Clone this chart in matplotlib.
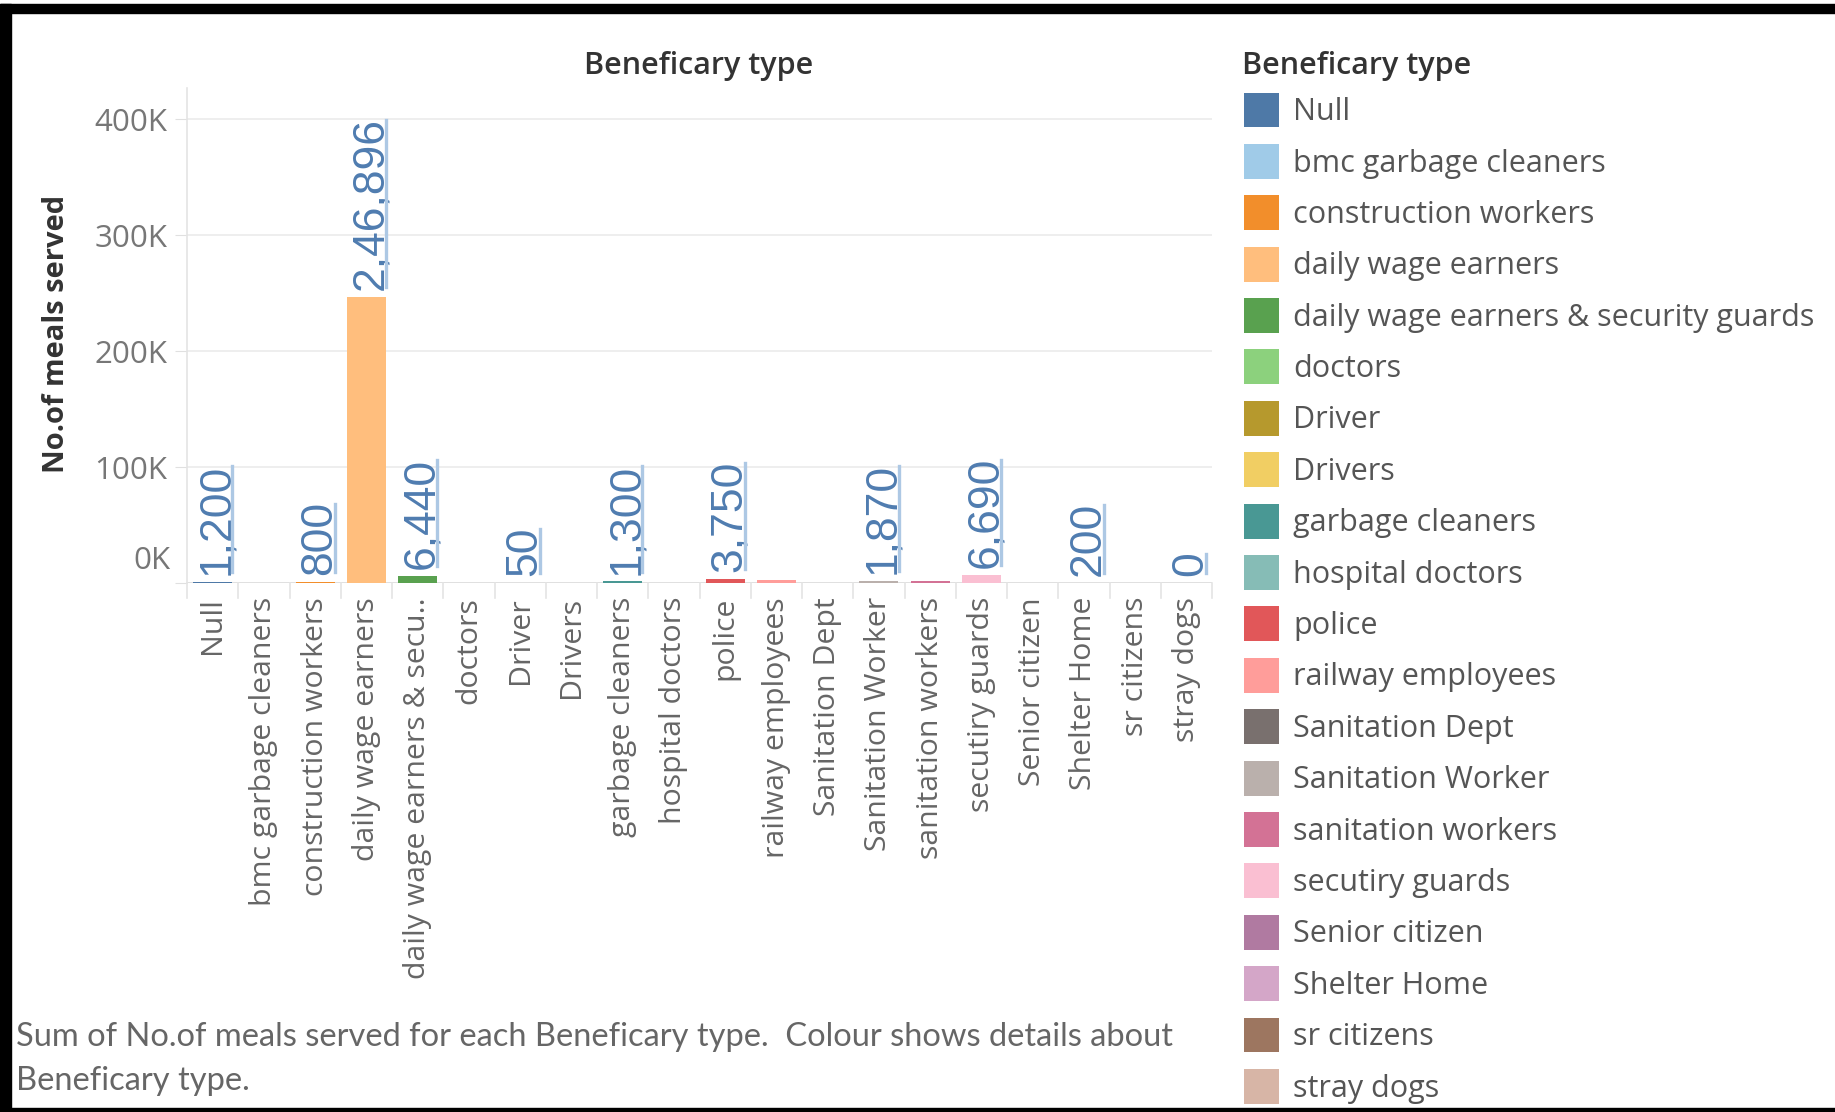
import numpy as np
import matplotlib
matplotlib.use('Agg')
import matplotlib.pyplot as plt
from matplotlib.patches import Patch, Rectangle
from matplotlib.lines import Line2D
import matplotlib.transforms as mtransforms
from matplotlib.ticker import FuncFormatter

plt.rcParams['font.family'] = ['Open Sans', 'DejaVu Sans']

# data
categories = ['Null', 'bmc garbage cleaners', 'construction workers', 'daily wage earners',
              'daily wage earners & security guards', 'doctors', 'Driver', 'Drivers',
              'garbage cleaners', 'hospital doctors', 'police', 'railway employees',
              'Sanitation Dept', 'Sanitation Worker', 'sanitation workers', 'secutiry guards',
              'Senior citizen', 'Shelter Home', 'sr citizens', 'stray dogs']
tick_labels = ['Null', 'bmc garbage cleaners', 'construction workers', 'daily wage earners',
               'daily wage earners & secu..', 'doctors', 'Driver', 'Drivers',
               'garbage cleaners', 'hospital doctors', 'police', 'railway employees',
               'Sanitation Dept', 'Sanitation Worker', 'sanitation workers', 'secutiry guards',
               'Senior citizen', 'Shelter Home', 'sr citizens', 'stray dogs']
meals = [1200, np.nan, 800, 246896, 6440, np.nan, 50, np.nan, 1300, np.nan, 3750, 3000,
         np.nan, 1870, 1900, 6690, np.nan, 200, np.nan, 0]
show_label = [True, False, True, True, True, False, True, False, True, False, True, False,
              False, True, False, True, False, True, False, True]
colors = ['#4e79a7', '#a0cbe8', '#f28e2b', '#ffbe7d', '#59a14f', '#8cd17d', '#b6992d', '#f1ce63',
          '#499894', '#86bcb6', '#e15759', '#ff9d9a', '#79706e', '#bab0ac', '#d37295', '#fabfd2',
          '#b07aa1', '#d4a6c8', '#9d7660', '#d7b5a6']
y_ticks = [0, 100000, 200000, 300000, 400000]


def indian(n):
    s = str(int(n))
    if len(s) <= 3:
        return s
    head, tail = s[:-3], s[-3:]
    groups = []
    while len(head) > 2:
        groups.insert(0, head[-2:])
        head = head[:-2]
    if head:
        groups.insert(0, head)
    return ','.join(groups) + ',' + tail


W, H = 1835, 1112
fig = plt.figure(figsize=(W / 100, H / 100), dpi=100)
ax = fig.add_axes([187 / W, 1 - 583 / H, 1025 / W, 495 / H])

x = np.arange(len(categories))
ax.bar(x, meals, width=0.76, color=colors, zorder=3)
ax.set_xlim(-0.5, len(categories) - 0.5)
ax.set_ylim(0, 427000)

for s in ['top', 'right', 'bottom']:
    ax.spines[s].set_visible(False)
ax.spines['left'].set_color('#e4e4e4')
ax.spines['left'].set_linewidth(1.2)
ax.set_yticks(y_ticks)
ax.yaxis.set_major_formatter(FuncFormatter(lambda v, p: '' if v == 0 else f'{int(v / 1000)}K'))
ax.tick_params(axis='y', length=9, color='#e0e0e0', labelsize=22.5, labelcolor='#777777', pad=5)
ax.grid(axis='y', color='#ebebeb', linewidth=1.2, zorder=0)
ax.axhline(0, color='#dedede', linewidth=1.2, zorder=2)
ax.annotate('0K', xy=(0, 0), xycoords=('axes fraction', 'data'), xytext=(-12, 5),
            textcoords='offset points', ha='right', va='bottom', fontsize=22.5, color='#777777')

ax.set_xticks(x)
ax.set_xticklabels(tick_labels, rotation=90, fontsize=21.8, color='#666666', va='top')
ax.tick_params(axis='x', length=0, pad=10)

# header separators under the baseline
sep = mtransforms.blended_transform_factory(ax.transData, ax.transAxes)
for k in range(len(categories) + 1):
    ax.add_line(Line2D([k - 0.5, k - 0.5], [0, -0.03], transform=sep, color='#e4e4e4',
                       linewidth=1.2, clip_on=False))

# value labels
labels = []
for i, v in enumerate(meals):
    if not show_label[i]:
        continue
    t = ax.annotate(indian(v), xy=(i, v), xytext=(3, 5), textcoords='offset points',
                    rotation=90, ha='center', va='bottom', fontsize=32, color='#4f7cb0',
                    family=['Liberation Sans', 'DejaVu Sans'], zorder=4)
    labels.append(t)

fig.canvas.draw()
r = fig.canvas.get_renderer()
for t in labels:
    bb = t.get_window_extent(r)
    ux = bb.x1 - 5
    fig.add_artist(Line2D([ux / W, ux / W], [(bb.y0 + 3) / H, (bb.y1 - 3) / H],
                          transform=fig.transFigure, color='#adc8e4', linewidth=2.4))

# titles and notes
fig.text(699 / W, 1 - 66 / H, 'Beneficary type', ha='center', va='center', fontsize=22,
         color='#333333', fontweight='semibold')
fig.text(56 / W, 1 - 334 / H, 'No.of meals served', ha='center', va='center', rotation=90,
         fontsize=21, color='#333333', fontweight='bold')
fig.text(16 / W, 1 - 1059 / H,
         'Sum of No.of meals served for each Beneficary type.  Colour shows details about\nBeneficary type.',
         ha='left', va='center', fontsize=23.5, color='#666666', linespacing=1.55,
         family=['Lato', 'DejaVu Sans'])

# legend
fig.text(1242 / W, 1 - 66 / H, 'Beneficary type', ha='left', va='center', fontsize=22,
         color='#333333', fontweight='semibold')
handles = [Patch(facecolor=c, edgecolor='none') for c in colors]
leg = fig.legend(handles, categories, loc='upper left', bbox_to_anchor=(1244 / W, 1 - 92.5 / H),
                 frameon=False, fontsize=22, alignment='left',
                 handlelength=1.15, handleheight=1.38, handletextpad=0.46, labelspacing=0.54,
                 borderaxespad=0, borderpad=0)
for txt in leg.get_texts():
    txt.set_color('#555555')

# outer frame of the screenshot
fig.patches.append(Rectangle((0, 1 - 13 / H), 1, 9 / H, transform=fig.transFigure,
                             color='black', zorder=10))
fig.patches.append(Rectangle((0, 0), 11 / W, 1 - 4 / H, transform=fig.transFigure,
                             color='black', zorder=10))
fig.patches.append(Rectangle((0, 0), 1, 4 / H, transform=fig.transFigure,
                             color='black', zorder=10))

fig.savefig('out.png', dpi=100)
